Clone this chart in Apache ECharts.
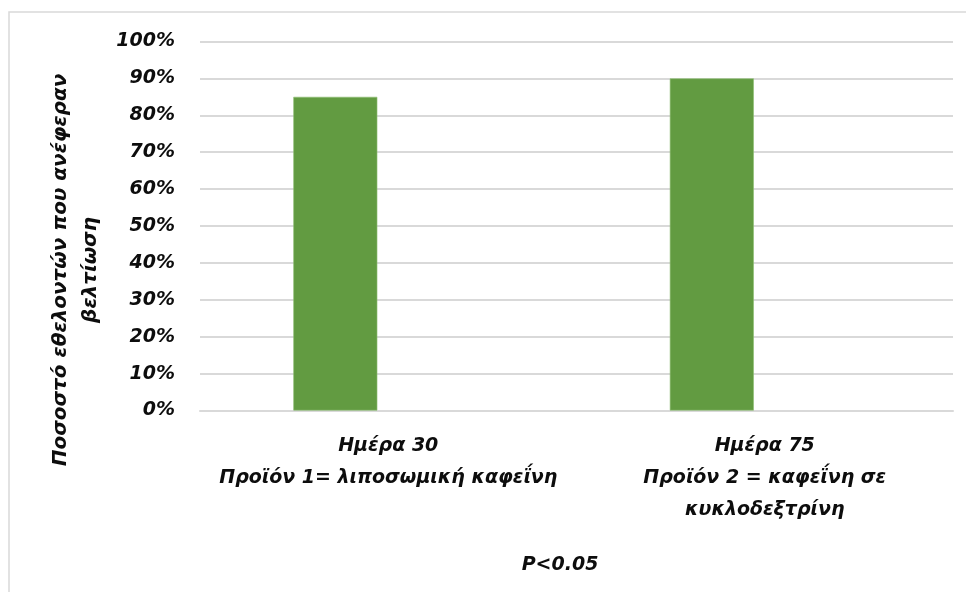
<!DOCTYPE html>
<html>
<head>
<meta charset="utf-8">
<script src="https://cdn.jsdelivr.net/npm/echarts@6/dist/echarts.min.js"></script>
<style>
  html, body { margin: 0; padding: 0; background: #ffffff; }
  #chart { width: 966px; height: 592px; }
</style>
</head>
<body>
<div id="chart"></div>
<script>
// Categories (multi-line axis labels)
const categories = [
  'Ημέρα 30\nΠροϊόν 1= λιποσωμική καφεΐνη',
  'Ημέρα 75\nΠροϊόν 2 = καφεΐνη σε\nκυκλοδεξτρίνη'
];
// Share of volunteers reporting improvement
const improvement = [0.85, 0.90];
// Empty companion series keeps the bar offset within each category
const placeholder = ['-', '-'];
const yAxisTitle = 'Ποσοστό εθελοντών που ανέφεραν\nβελτίωση';
const footnote = 'P<0.05';

const FONT = 'DejaVu Sans';
const textStyle = { fontFamily: FONT, fontWeight: 'bold', fontStyle: 'italic', fontSize: 19, color: '#0d0d0d' };

const chart = echarts.init(document.getElementById('chart'), null, { renderer: 'canvas' });
chart.setOption({
  animation: false,
  backgroundColor: '#ffffff',
  grid: { left: 200, right: 13, top: 41.5, bottom: 181.5, containLabel: false },
  xAxis: {
    type: 'category',
    data: categories,
    axisLine: { show: true, lineStyle: { color: '#d9d9d9', width: 2 } },
    axisTick: { show: false },
    axisLabel: Object.assign({}, textStyle, { margin: 20, lineHeight: 32, interval: 0 })
  },
  yAxis: {
    type: 'value',
    min: 0, max: 1, interval: 0.1,
    axisLine: { show: false },
    axisTick: { show: false },
    splitLine: { lineStyle: { color: '#d9d9d9', width: 2 } },
    axisLabel: Object.assign({}, textStyle, {
      margin: 25,
      formatter: v => Math.round(v * 100) + '%'
    })
  },
  series: [
    {
      type: 'bar',
      data: improvement,
      barWidth: 84,
      barGap: '26%',
      itemStyle: { color: '#629b41', borderColor: '#8fbf73', borderWidth: 0.6 }
    },
    {
      type: 'bar',
      data: placeholder,
      barWidth: 84,
      itemStyle: { color: '#629b41' }
    }
  ],
  graphic: [
    {
      type: 'rect',
      silent: true,
      shape: { x: 9, y: 12, width: 980, height: 620 },
      style: { fill: 'none', stroke: '#d9d9d9', lineWidth: 1.5 }
    },
    {
      // rotated y-axis title, two lines
      type: 'text',
      silent: true,
      x: 76, y: 270,
      rotation: Math.PI / 2,
      style: {
        text: yAxisTitle,
        font: 'italic bold 20px "DejaVu Sans"',
        lineHeight: 30,
        fill: '#0d0d0d',
        align: 'center',
        verticalAlign: 'middle'
      }
    },
    {
      type: 'text',
      silent: true,
      x: 560, y: 565,
      style: {
        text: footnote,
        font: 'italic bold 19px "DejaVu Sans"',
        fill: '#0d0d0d',
        align: 'center',
        verticalAlign: 'middle'
      }
    }
  ]
});
</script>
</body>
</html>
